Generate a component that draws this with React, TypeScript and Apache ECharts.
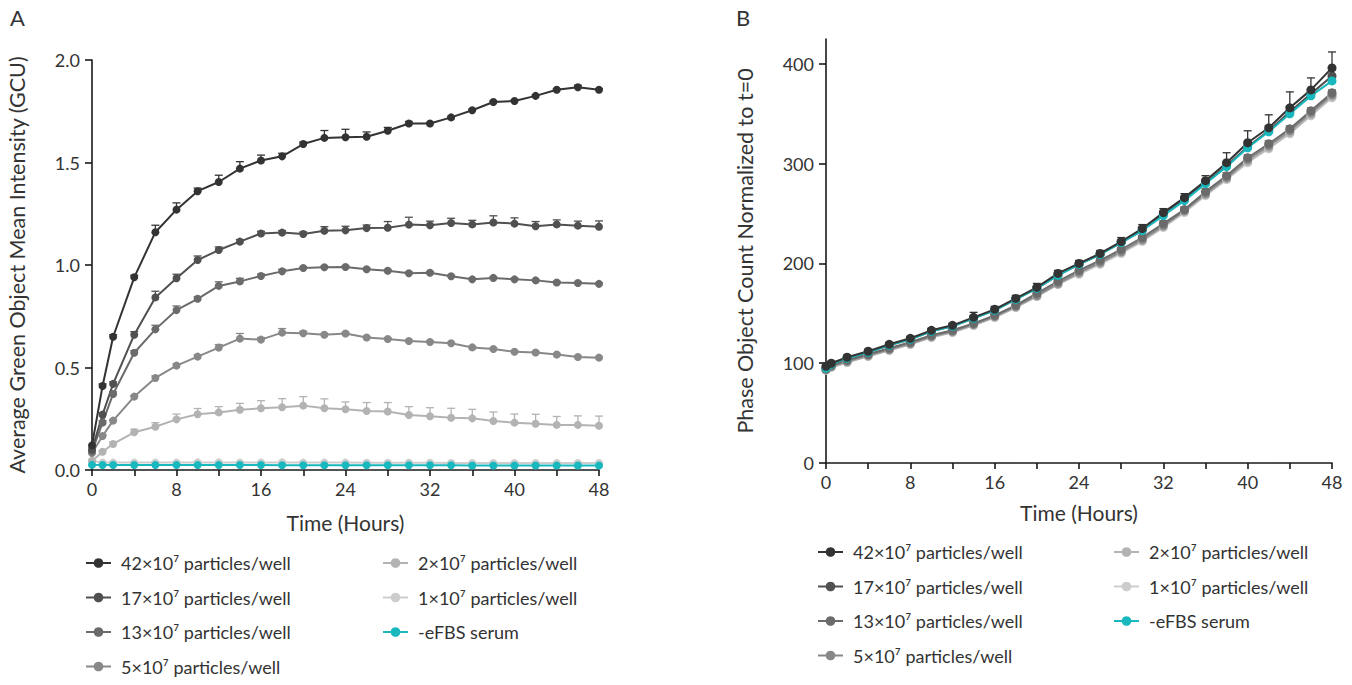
import React, { useEffect, useRef } from "react";
import * as echarts from "echarts";

// ---------- DATA ----------
const timesA = [0, 1, 2, 4, 6, 8, 10, 12, 14, 16, 18, 20, 22, 24, 26, 28, 30, 32, 34, 36, 38, 40, 42, 44, 46, 48];
const timesB = [0, 0.5, 2, 4, 6, 8, 10, 12, 14, 16, 18, 20, 22, 24, 26, 28, 30, 32, 34, 36, 38, 40, 42, 44, 46, 48];

const seriesNames = [
  "42×10⁷ particles/well",
  "17×10⁷ particles/well",
  "13×10⁷ particles/well",
  "5×10⁷ particles/well",
  "2×10⁷ particles/well",
  "1×10⁷ particles/well",
  "-eFBS serum",
];
const seriesColors = ["#333333", "#505050", "#6b6b6b", "#888888", "#b3b3b3", "#cdcdcd", "#19b8be"];

// Panel A: Average Green Object Mean Intensity (GCU)
const a42 = [0.12, 0.41, 0.65, 0.94, 1.16, 1.27, 1.36, 1.405, 1.47, 1.51, 1.53, 1.59, 1.62, 1.623, 1.626, 1.655, 1.69, 1.69, 1.72, 1.755, 1.795, 1.8, 1.825, 1.855, 1.867, 1.855];
const a17 = [0.1, 0.27, 0.42, 0.66, 0.842, 0.935, 1.024, 1.073, 1.114, 1.154, 1.158, 1.151, 1.167, 1.169, 1.18, 1.182, 1.197, 1.194, 1.205, 1.198, 1.207, 1.202, 1.189, 1.198, 1.192, 1.187];
const a13 = [0.09, 0.231, 0.371, 0.572, 0.686, 0.78, 0.835, 0.898, 0.92, 0.946, 0.969, 0.985, 0.989, 0.99, 0.979, 0.972, 0.96, 0.962, 0.945, 0.93, 0.937, 0.93, 0.925, 0.915, 0.912, 0.908];
const a5 = [0.083, 0.166, 0.241, 0.358, 0.449, 0.509, 0.553, 0.597, 0.641, 0.636, 0.67, 0.667, 0.66, 0.666, 0.646, 0.639, 0.629, 0.624, 0.618, 0.598, 0.59, 0.577, 0.573, 0.563, 0.551, 0.548];
const a2 = [0.044, 0.089, 0.127, 0.184, 0.211, 0.247, 0.272, 0.281, 0.294, 0.301, 0.306, 0.314, 0.301, 0.296, 0.288, 0.285, 0.268, 0.262, 0.255, 0.252, 0.239, 0.231, 0.226, 0.22, 0.22, 0.216];
const a1 = [0.045, 0.036, 0.036, 0.036, 0.036, 0.036, 0.037, 0.037, 0.036, 0.036, 0.037, 0.036, 0.036, 0.036, 0.035, 0.035, 0.035, 0.035, 0.034, 0.034, 0.034, 0.034, 0.034, 0.034, 0.034, 0.034];
const aSerum = [0.025, 0.024, 0.024, 0.024, 0.024, 0.024, 0.024, 0.024, 0.024, 0.024, 0.023, 0.023, 0.023, 0.023, 0.023, 0.023, 0.023, 0.023, 0.023, 0.022, 0.022, 0.022, 0.022, 0.022, 0.022, 0.022];

const ae42 = [0, 0.01, 0.01, 0.01, 0.034, 0.033, 0.015, 0.033, 0.034, 0.026, 0.015, 0.01, 0.036, 0.039, 0.023, 0.016, 0.01, 0.005, 0.005, 0.005, 0.005, 0.005, 0.005, 0.005, 0.01, 0.005];
const ae17 = [0, 0.01, 0.01, 0.015, 0.03, 0.02, 0.02, 0.015, 0.01, 0.01, 0.01, 0.01, 0.02, 0.02, 0.015, 0.03, 0.036, 0.02, 0.023, 0.02, 0.033, 0.028, 0.023, 0.022, 0.022, 0.028];
const ae13 = [0, 0.01, 0.01, 0.01, 0.02, 0.02, 0.01, 0.02, 0.015, 0.01, 0.01, 0.005, 0.005, 0.005, 0.005, 0.005, 0.005, 0.005, 0.005, 0.005, 0.005, 0.005, 0.005, 0.005, 0.005, 0.005];
const ae5 = [0, 0.005, 0.005, 0.005, 0.01, 0.01, 0.01, 0.015, 0.025, 0.01, 0.02, 0.01, 0.005, 0.005, 0.005, 0.005, 0.005, 0.005, 0.005, 0.005, 0.005, 0.005, 0.005, 0.005, 0.005, 0.005];
const ae2 = [0, 0.005, 0.01, 0.015, 0.02, 0.026, 0.028, 0.028, 0.031, 0.037, 0.042, 0.044, 0.046, 0.036, 0.041, 0.044, 0.041, 0.042, 0.046, 0.044, 0.044, 0.042, 0.046, 0.041, 0.044, 0.047];
const ae1 = [0, 0.005, 0.005, 0.005, 0.005, 0.005, 0.005, 0.005, 0.005, 0.005, 0.005, 0.005, 0.005, 0.005, 0.005, 0.005, 0.005, 0.005, 0.005, 0.005, 0.005, 0.005, 0.005, 0.005, 0.005, 0.005];
const aeSerum = [0, 0.003, 0.003, 0.003, 0.003, 0.003, 0.003, 0.003, 0.003, 0.003, 0.003, 0.003, 0.003, 0.003, 0.003, 0.003, 0.003, 0.003, 0.003, 0.003, 0.003, 0.003, 0.003, 0.003, 0.003, 0.003];

// Panel B: Phase Object Count Normalized to t=0
const b42 = [97, 100, 106, 112, 119, 125, 133, 138, 146, 154, 165, 176, 190, 200, 210, 222, 235, 251, 266, 283, 301, 321, 336, 356, 374, 396];
const b17 = [96, 99, 105, 111, 118, 124, 132, 137, 145, 153, 164, 175, 188, 199, 209, 221, 233, 249, 264, 281, 298, 317, 333, 352, 370, 388];
const b13 = [94, 98, 103, 109, 115, 121, 128, 133, 140, 148, 158, 170, 182, 193, 203, 214, 226, 240, 254, 272, 288, 306, 320, 335, 353, 371];
const b5 = [94, 97, 102, 108, 114, 120, 127, 132, 139, 147, 157, 168, 180, 191, 201, 212, 224, 238, 253, 270, 286, 304, 318, 333, 351, 369];
const b2 = [93, 96, 101, 107, 113, 119, 126, 131, 138, 146, 156, 167, 179, 190, 200, 211, 223, 237, 252, 269, 285, 302, 316, 331, 349, 367];
const b1 = [93, 96, 101, 107, 113, 119, 126, 131, 138, 146, 156, 167, 179, 189, 199, 210, 222, 236, 251, 268, 284, 301, 315, 330, 348, 366];
const bSerum = [95, 99, 105, 111, 118, 124, 132, 137, 145, 153, 164, 175, 188, 199, 209, 221, 233, 248, 263, 280, 297, 316, 332, 350, 368, 383];

const be42 = [2, 2, 2, 2, 2, 2, 2, 2, 5, 3, 3, 4, 3, 3, 3, 4, 4, 4, 4, 5, 10, 12, 13, 16, 12, 16];
const be17 = [1, 1, 1, 1, 1, 1, 1, 1, 2, 2, 2, 2, 2, 2, 2, 2, 3, 3, 3, 3, 4, 4, 5, 5, 5, 6];
const be13 = [1, 1, 1, 1, 1, 1, 1, 1, 2, 2, 2, 2, 2, 2, 2, 2, 2, 3, 3, 3, 3, 3, 3, 3, 3, 3];
const be5 = [1, 1, 1, 1, 1, 1, 1, 1, 2, 2, 2, 2, 2, 2, 2, 2, 2, 3, 3, 3, 3, 3, 3, 3, 3, 3];
const be2 = [1, 1, 1, 1, 1, 1, 1, 1, 2, 2, 2, 2, 2, 2, 2, 2, 2, 3, 3, 3, 3, 3, 3, 3, 3, 3];
const be1 = [1, 1, 1, 1, 1, 1, 1, 1, 2, 2, 2, 2, 2, 2, 2, 2, 2, 3, 3, 3, 3, 3, 3, 3, 3, 3];
const beSerum = [1, 1, 1, 1, 1, 1, 1, 1, 2, 2, 2, 2, 2, 2, 2, 2, 2, 2, 2, 3, 3, 3, 3, 3, 3, 4];

const ticksX = [0, 4, 8, 12, 16, 20, 24, 28, 32, 36, 40, 44, 48];
const labelsX = [0, 8, 16, 24, 32, 40, 48];
const ticksYA = [0, 0.5, 1, 1.5, 2];
const ticksYB = [0, 100, 200, 300, 400];

const valuesA = [a42, a17, a13, a5, a2, a1, aSerum];
const errorsA = [ae42, ae17, ae13, ae5, ae2, ae1, aeSerum];
const valuesB = [b42, b17, b13, b5, b2, b1, bSerum];
const errorsB = [be42, be17, be13, be5, be2, be1, beSerum];

// drawing order: light first, darkest last
const drawOrder = [5, 4, 3, 2, 1, 6, 0];

const FONT = "Lato";
const TXT = "#333333";

export default function App() {
  const ref = useRef<HTMLDivElement>(null);

  useEffect(() => {
    document.body.style.margin = "0";
    const chart = echarts.init(ref.current!, null, { renderer: "svg" });

    const makeAxisX = (gridIndex: number) => ({
      type: "value",
      gridIndex,
      min: 0,
      max: 48,
      name: "Time (Hours)",
      nameLocation: "middle",
      nameGap: gridIndex === 0 ? 42 : 39,
      nameTextStyle: { fontFamily: FONT, fontSize: 21, color: TXT },
      axisLine: { show: true, onZero: false, lineStyle: { color: "#1a1a1a", width: 1.6 } },
      axisTick: { show: true, length: 6, customValues: ticksX, lineStyle: { color: "#1a1a1a", width: 1.6 } },
      axisLabel: { customValues: labelsX, margin: 10, fontFamily: FONT, fontSize: 18, color: TXT },
      splitLine: { show: false },
    });

    const yAxisA = {
      type: "value",
      gridIndex: 0,
      min: 0,
      max: 2,
      name: "Average Green Object Mean Intensity (GCU)",
      nameLocation: "middle",
      nameGap: 64,
      nameTextStyle: { fontFamily: FONT, fontSize: 21.5, color: TXT },
      axisLine: { show: true, lineStyle: { color: "#1a1a1a", width: 1.6 } },
      axisTick: { show: true, length: 7, customValues: ticksYA, lineStyle: { color: "#1a1a1a", width: 1.6 } },
      axisLabel: { customValues: ticksYA, margin: 12, fontFamily: FONT, fontSize: 18, color: TXT, formatter: (v: number) => v.toFixed(1) },
      splitLine: { show: false },
    };
    const yAxisB = {
      type: "value",
      gridIndex: 1,
      min: 0,
      max: 425,
      name: "Phase Object Count Normalized to t=0",
      nameLocation: "middle",
      nameGap: 70,
      nameTextStyle: { fontFamily: FONT, fontSize: 21.5, color: TXT },
      axisLine: { show: true, lineStyle: { color: "#1a1a1a", width: 1.6 } },
      axisTick: { show: true, length: 7, customValues: ticksYB, lineStyle: { color: "#1a1a1a", width: 1.6 } },
      axisLabel: { customValues: ticksYB, margin: 12, fontFamily: FONT, fontSize: 18, color: TXT },
      splitLine: { show: false },
    };

    const series: any[] = [];
    const addPanel = (panel: number, times: number[], values: number[][], errors: number[][], symSize: number) => {
      drawOrder.forEach((i) => {
        const color = seriesColors[i];
        series.push({
          type: "custom",
          xAxisIndex: panel,
          yAxisIndex: panel,
          silent: true,
          z: 1,
          encode: { x: 0, y: 1 },
          data: times.map((t, k) => [t, values[i][k], errors[i][k]]),
          renderItem: (params: any, api: any) => {
            const x = api.value(0);
            const y = api.value(1);
            const e = api.value(2);
            if (!e) return null;
            const p0 = api.coord([x, y]);
            const p1 = api.coord([x, y + e]);
            const st = { stroke: color, lineWidth: 1.3 };
            return {
              type: "group",
              children: [
                { type: "line", shape: { x1: p0[0], y1: p0[1], x2: p1[0], y2: p1[1] }, style: st },
                { type: "line", shape: { x1: p1[0] - 4, y1: p1[1], x2: p1[0] + 4, y2: p1[1] }, style: st },
              ],
            };
          },
        });
      });
      drawOrder.forEach((i) => {
        series.push({
          type: "line",
          name: seriesNames[i],
          xAxisIndex: panel,
          yAxisIndex: panel,
          z: 2,
          data: times.map((t, k) => [t, values[i][k]]),
          symbol: "circle",
          symbolSize: symSize,
          showSymbol: true,
          lineStyle: { color: seriesColors[i], width: 2 },
          itemStyle: { color: seriesColors[i] },
          emphasis: { disabled: true },
        });
      });
    };
    addPanel(0, timesA, valuesA, errorsA, 8);
    addPanel(1, timesB, valuesB, errorsB, 9);

    const legendBase = {
      orient: "vertical",
      padding: 0,
      itemWidth: 25,
      itemHeight: 12,
      itemGap: 14.5,
      selectedMode: false,
      textStyle: { fontFamily: FONT, fontSize: 18, color: TXT, lineHeight: 20, padding: [0, 0, 0, 5] },
    };

    chart.setOption({
      animation: false,
      backgroundColor: "#ffffff",
      textStyle: { fontFamily: FONT },
      grid: [
        { left: 92, top: 60, width: 507, height: 410, containLabel: false },
        { left: 826, top: 39, width: 506, height: 424, containLabel: false },
      ],
      xAxis: [makeAxisX(0), makeAxisX(1)],
      yAxis: [yAxisA, yAxisB],
      legend: [
        { ...legendBase, left: 85, top: 553, data: seriesNames.slice(0, 4) },
        { ...legendBase, left: 382, top: 553, data: seriesNames.slice(4) },
        { ...legendBase, left: 817, top: 542, data: seriesNames.slice(0, 4) },
        { ...legendBase, left: 1113, top: 542, data: seriesNames.slice(4) },
      ],
      graphic: [
        { type: "text", left: 10, top: 6, style: { text: "A", fontFamily: FONT, fontSize: 22, fill: TXT } },
        { type: "text", left: 736, top: 6, style: { text: "B", fontFamily: FONT, fontSize: 22, fill: TXT } },
      ],
      series,
    });

    return () => chart.dispose();
  }, []);

  return <div ref={ref} style={{ width: 1352, height: 685 }} />;
}
